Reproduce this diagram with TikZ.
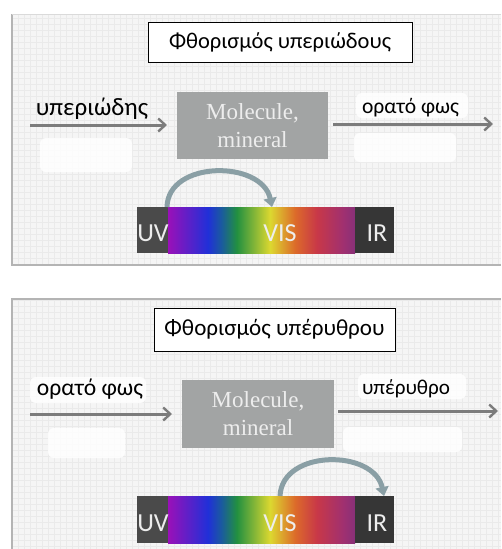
\documentclass[tikz,border=0pt]{standalone}
\usepackage{fontspec}
\usepackage{graphicx}
\setmainfont{Liberation Serif}
\newfontfamily\grf{Carlito}
\newfontfamily\barf{Carlito}
\usetikzlibrary{arrows.meta}
\definecolor{panelbg}{HTML}{F5F5F5}
\definecolor{gridc}{HTML}{EAEAEA}
\definecolor{panelline}{HTML}{B4B4B4}
\definecolor{molfill}{HTML}{A2A4A4}
\definecolor{moltext}{HTML}{EDEDED}
\definecolor{arrowc}{HTML}{7C7C7C}
\definecolor{curvec}{HTML}{8A9FA5}
\definecolor{uvc}{HTML}{4A4A4A}
\definecolor{irc}{HTML}{363636}
\definecolor{sA}{HTML}{9A10B8}
\definecolor{sB}{HTML}{2030D8}
\definecolor{sC}{HTML}{1A5C9C}
\definecolor{sD}{HTML}{229040}
\definecolor{sE}{HTML}{DCD830}
\definecolor{sF}{HTML}{DC6A2A}
\definecolor{sG}{HTML}{C83848}
\definecolor{sH}{HTML}{A03070}
\definecolor{sI}{HTML}{883078}
\pgfdeclarehorizontalshading{spec}{100bp}{color(0bp)=(sA); color(25bp)=(sA); color(35.7bp)=(sB); color(39.4bp)=(sC); color(43.4bp)=(sD); color(52.3bp)=(sE); color(59bp)=(sF); color(64.8bp)=(sG); color(71.8bp)=(sH); color(75bp)=(sI); color(100bp)=(sI)}
\tikzset{
  titlebox/.style={draw=black, line width=1pt, fill=white, inner sep=0pt},
  molbox/.style={fill=molfill, draw=none, inner sep=0pt, align=center, text=moltext, font=\fontsize{23}{28}\selectfont},
  lbl/.style={anchor=base, inner sep=0pt},
  flow/.style={draw=arrowc, line width=3pt, -{Straight Barb[length=7pt,width=13pt,line width=2.4pt]}},
  curvearrow/.style={draw=curvec, line width=5pt, -{Triangle[length=9pt,width=13pt]}},
  barlbl/.style={anchor=base, inner sep=0pt, text=moltext, font=\barf\fontsize{26}{30}\selectfont},
  patch/.style={fill=white, draw=none, rounded corners=6pt, opacity=0.85},
  panelborder/.style={draw=panelline, line width=1.5pt},
}
\newcommand{\grw}[2]{\resizebox{#1pt}{!}{\grf\fontsize{20}{20}\selectfont #2}}
\begin{document}
\begin{tikzpicture}[x=1pt, y=-1pt]
\useasboundingbox (0,0) rectangle (501,549);
\fill[white] (0,0) rectangle (501,549);
% ---------- top panel ----------
\fill[panelbg] (12,14) rectangle (501,265);
\draw[gridc, line width=0.4pt, step=6pt] (12,14) grid (501,265);
\draw[panelborder] (12,14) -- (12,265) -- (501,265);
\draw[panelline!50, line width=0.8pt] (12,14) -- (501,14);
\fill[patch] (40,138) rectangle (132,172);
\fill[patch] (354,133) rectangle (456,162);
\fill[patch] (356,93) rectangle (468,118);
\node[titlebox, minimum width=264pt, minimum height=40pt] (t1) at (280,42) {\grw{222}{Φθορισμός υπεριώδους}};
\node[molbox, minimum width=151pt, minimum height=67pt] (m1) at (252.5,125.5) {Molecule,\\mineral};
\coordinate (a1s) at (30,125);
\coordinate (a1e) at (167,125);
\coordinate (b1s) at (333,124);
\coordinate (b1e) at (493,124);
\draw[flow] (a1s) -- (a1e);
\draw[flow] (b1s) -- (b1e);
\node[lbl] (l1) at (92,115) {\grw{112}{υπεριώδης}};
\node[lbl] (r1) at (410.5,113) {\grw{97}{ορατό φως}};
% spectrum bar 1
\fill[uvc] (137,207) rectangle (168,253);
\shade[shading=spec] (168,207) rectangle (355,253);
\fill[irc] (355,207) rectangle (394,253);
\node[barlbl] (uv1) at (153,241) {UV};
\node[barlbl] (vis1) at (280,241) {VIS};
\node[barlbl] (ir1) at (377,241) {IR};
\coordinate (c1s) at (167,207);
\coordinate (c1e) at (272,207);
\draw[curvearrow] (c1s) .. controls (168,160) and (262,160) .. (c1e);
% ---------- bottom panel ----------
\fill[panelbg] (12,299) rectangle (501,549);
\draw[gridc, line width=0.4pt, step=6pt] (12,299) grid (501,549);
\draw[panelborder] (12,549) -- (12,299) -- (501,299);
\fill[patch] (30,377) rectangle (146,403);
\fill[patch] (48,428) rectangle (125,458);
\fill[patch] (358,374) rectangle (466,399);
\fill[patch] (343,427) rectangle (462,452);
\node[titlebox, minimum width=241pt, minimum height=43pt] (t2) at (274.5,329.5) {\grw{220}{Φθορισμός υπέρυθρου}};
\node[molbox, minimum width=152pt, minimum height=68pt] (m2) at (258,414) {Molecule,\\mineral};
\coordinate (a2s) at (30,414);
\coordinate (a2e) at (172,414);
\coordinate (b2s) at (338,411);
\coordinate (b2e) at (498,411);
\draw[flow] (a2s) -- (a2e);
\draw[flow] (b2s) -- (b2e);
\node[lbl] (l2) at (90,395) {\grw{106}{ορατό φως}};
\node[lbl] (r2) at (406,394) {\grw{88}{υπέρυθρο}};
% spectrum bar 2
\fill[uvc] (137,496) rectangle (168,543);
\shade[shading=spec] (168,496) rectangle (355,543);
\fill[irc] (355,496) rectangle (394,543);
\node[barlbl] (uv2) at (153,531) {UV};
\node[barlbl] (vis2) at (280,531) {VIS};
\node[barlbl] (ir2) at (377,531) {IR};
\coordinate (c2s) at (280,496);
\coordinate (c2e) at (384,496);
\draw[curvearrow] (c2s) .. controls (282,449) and (374,449) .. (c2e);
\end{tikzpicture}
\end{document}
